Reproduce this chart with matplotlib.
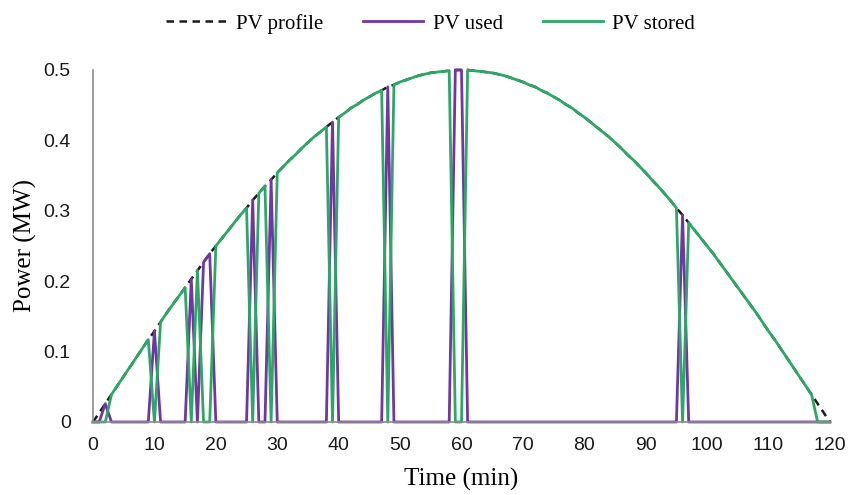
"""PV profile split into the part used directly and the part stored, per minute."""
import matplotlib
matplotlib.use("Agg")
import matplotlib.pyplot as plt
import numpy as np

# minutes 0..120
TIME_MIN = list(range(121))

# PV profile (MW) at each minute
PV_PROFILE = [
    0.000, 0.013, 0.026, 0.039, 0.052, 0.065, 0.078, 0.091, 0.104, 0.117,
    0.129, 0.142, 0.155, 0.167, 0.179, 0.191, 0.203, 0.215, 0.227, 0.239,
    0.250, 0.261, 0.272, 0.283, 0.294, 0.304, 0.315, 0.325, 0.335, 0.344,
    0.354, 0.363, 0.372, 0.380, 0.389, 0.397, 0.405, 0.412, 0.419, 0.426,
    0.433, 0.439, 0.446, 0.451, 0.457, 0.462, 0.467, 0.471, 0.476, 0.479,
    0.483, 0.486, 0.489, 0.492, 0.494, 0.496, 0.497, 0.498, 0.499, 0.500,
    0.500, 0.500, 0.499, 0.498, 0.497, 0.496, 0.494, 0.492, 0.489, 0.486,
    0.483, 0.479, 0.476, 0.471, 0.467, 0.462, 0.457, 0.451, 0.446, 0.439,
    0.433, 0.426, 0.419, 0.412, 0.405, 0.397, 0.389, 0.380, 0.372, 0.363,
    0.354, 0.344, 0.335, 0.325, 0.315, 0.304, 0.294, 0.283, 0.272, 0.261,
    0.250, 0.239, 0.227, 0.215, 0.203, 0.191, 0.179, 0.167, 0.155, 0.142,
    0.129, 0.117, 0.104, 0.091, 0.078, 0.065, 0.052, 0.039, 0.026, 0.013,
    0.000,
]

# minutes where the PV output goes to the load
USED_MIN = [2, 10, 16, 18, 19, 26, 29, 39, 48, 59, 60, 96]
# minutes where the PV output goes to storage (all others in this window)
STORED_FROM, STORED_TO = 3, 117

X_TICKS = list(range(0, 121, 10))
Y_TICKS = [0, 0.1, 0.2, 0.3, 0.4, 0.5]
Y_TICK_LABELS = ["0", "0.1", "0.2", "0.3", "0.4", "0.5"]

C_PROFILE = "#1a1a1a"
C_USED = "#7335a3"
C_STORED = "#2ba865"

profile = np.array(PV_PROFILE)
t = np.array(TIME_MIN)
used = np.zeros_like(profile)
stored = np.zeros_like(profile)
used[USED_MIN] = profile[USED_MIN]
store_mask = (t >= STORED_FROM) & (t <= STORED_TO)
store_mask[USED_MIN] = False
stored[store_mask] = profile[store_mask]

fig = plt.figure(figsize=(8.48, 4.95), dpi=100)
ax = fig.add_axes([0.1097, 0.1475, 0.869, 0.7111])

ax.plot(t, profile, color=C_PROFILE, lw=1.8, ls=(0, (3, 2.2)), label="PV profile")
ax.plot(t, used, color=C_USED, lw=2.0, label="PV used")
ax.plot(t, stored, color=C_STORED, lw=2.0, label="PV stored")

ax.set_xlim(0, 120)
ax.set_ylim(0, 0.5)
ax.set_xticks(X_TICKS)
ax.set_yticks(Y_TICKS)
ax.set_yticklabels(Y_TICK_LABELS)
ax.tick_params(length=0, labelsize=14, colors="#1a1a1a")
ax.tick_params(axis="x", pad=11)
ax.tick_params(axis="y", pad=16)
for lab in ax.get_xticklabels() + ax.get_yticklabels():
    lab.set_fontfamily("Liberation Sans")

for side in ("top", "right"):
    ax.spines[side].set_visible(False)
for side in ("left", "bottom"):
    ax.spines[side].set_color("#8c8c8c")
    ax.spines[side].set_linewidth(1.2)
for ln in ax.lines:
    ln.set_clip_on(False)

serif = "Liberation Serif"
ax.set_xlabel("Time (min)", fontsize=18, fontfamily=serif, labelpad=10)
ax.set_ylabel("Power (MW)", fontsize=18, fontfamily=serif, labelpad=5)

fig.legend(loc="upper center", bbox_to_anchor=(0.508, 1.01), ncol=3, frameon=False,
           handlelength=2.9, columnspacing=1.9, handletextpad=0.45,
           prop={"family": serif, "size": 15})

fig.savefig("out.png", dpi=100)
